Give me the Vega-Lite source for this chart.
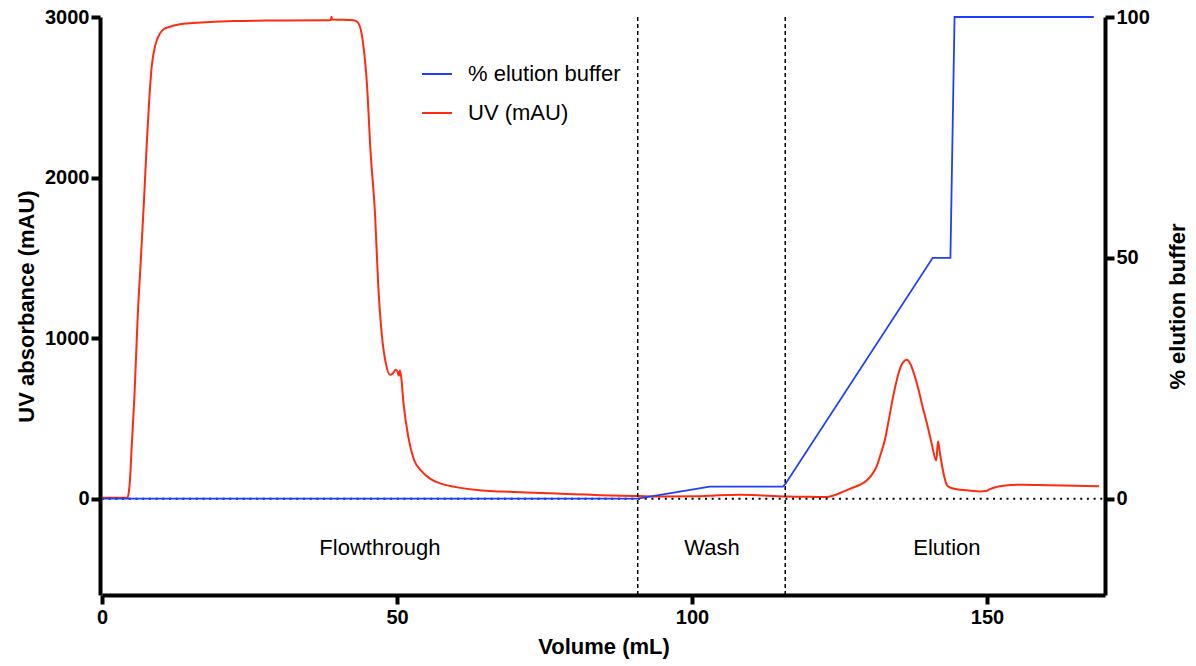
{
  "$schema": "https://vega.github.io/schema/vega-lite/v6.json",
  "width": 1003,
  "height": 578,
  "autosize": {"type": "none"},
  "padding": {"left": 102, "top": 17, "right": 91, "bottom": 71},
  "background": "white",
  "datasets": {
    "uv": [
      {"volume": 0, "uv": 5}, {"volume": 4.3, "uv": 6}, {"volume": 4.5, "uv": 30}, {"volume": 4.75, "uv": 120},
      {"volume": 5.0, "uv": 300}, {"volume": 5.5, "uv": 640}, {"volume": 6.05, "uv": 1134}, {"volume": 6.6, "uv": 1500},
      {"volume": 7.12, "uv": 1861}, {"volume": 7.6, "uv": 2220}, {"volume": 8.0, "uv": 2480}, {"volume": 8.42, "uv": 2690},
      {"volume": 9.0, "uv": 2820}, {"volume": 9.83, "uv": 2898}, {"volume": 10.5, "uv": 2925}, {"volume": 11.5, "uv": 2939},
      {"volume": 13, "uv": 2953}, {"volume": 14.4, "uv": 2960}, {"volume": 17.7, "uv": 2968}, {"volume": 22.3, "uv": 2975},
      {"volume": 30, "uv": 2978}, {"volume": 38, "uv": 2980}, {"volume": 38.8, "uv": 2982}, {"volume": 38.9, "uv": 3001},
      {"volume": 39.0, "uv": 2985}, {"volume": 42.6, "uv": 2980}, {"volume": 43.4, "uv": 2965}, {"volume": 44.2, "uv": 2850},
      {"volume": 44.9, "uv": 2587}, {"volume": 45.5, "uv": 2172}, {"volume": 46.3, "uv": 1757}, {"volume": 46.8, "uv": 1342},
      {"volume": 47.4, "uv": 1031}, {"volume": 48.1, "uv": 844}, {"volume": 48.8, "uv": 772}, {"volume": 49.3, "uv": 780},
      {"volume": 49.8, "uv": 803}, {"volume": 50.1, "uv": 790}, {"volume": 50.3, "uv": 765}, {"volume": 50.5, "uv": 798},
      {"volume": 50.7, "uv": 760}, {"volume": 51.1, "uv": 595}, {"volume": 51.9, "uv": 388}, {"volume": 52.8, "uv": 250},
      {"volume": 54.2, "uv": 170}, {"volume": 55.6, "uv": 125}, {"volume": 57.3, "uv": 95}, {"volume": 60, "uv": 72},
      {"volume": 64, "uv": 52}, {"volume": 67.5, "uv": 45}, {"volume": 72, "uv": 38}, {"volume": 76, "uv": 33},
      {"volume": 80, "uv": 28}, {"volume": 84.4, "uv": 22}, {"volume": 88, "uv": 18}, {"volume": 91, "uv": 16},
      {"volume": 95, "uv": 14}, {"volume": 101, "uv": 15}, {"volume": 104, "uv": 20}, {"volume": 108, "uv": 24},
      {"volume": 112, "uv": 20}, {"volume": 116, "uv": 14}, {"volume": 120, "uv": 12}, {"volume": 122.8, "uv": 10},
      {"volume": 124, "uv": 20}, {"volume": 125.1, "uv": 35}, {"volume": 127, "uv": 65}, {"volume": 128.5, "uv": 87},
      {"volume": 129.6, "uv": 113}, {"volume": 130.5, "uv": 150}, {"volume": 131.3, "uv": 201}, {"volume": 132, "uv": 280},
      {"volume": 132.7, "uv": 367}, {"volume": 133.4, "uv": 500}, {"volume": 134.1, "uv": 637}, {"volume": 135, "uv": 780},
      {"volume": 135.8, "uv": 850}, {"volume": 136.4, "uv": 865}, {"volume": 137, "uv": 840}, {"volume": 137.7, "uv": 770},
      {"volume": 138.4, "uv": 678}, {"volume": 139.1, "uv": 570}, {"volume": 139.8, "uv": 471}, {"volume": 140.6, "uv": 347},
      {"volume": 141.4, "uv": 238}, {"volume": 141.7, "uv": 357}, {"volume": 142.0, "uv": 290}, {"volume": 142.3, "uv": 222},
      {"volume": 142.8, "uv": 130}, {"volume": 143.2, "uv": 85}, {"volume": 143.7, "uv": 70}, {"volume": 144.9, "uv": 58},
      {"volume": 146.6, "uv": 52}, {"volume": 148.8, "uv": 45}, {"volume": 149.9, "uv": 48}, {"volume": 150.5, "uv": 60},
      {"volume": 151.5, "uv": 72}, {"volume": 152.8, "uv": 81}, {"volume": 156.1, "uv": 87}, {"volume": 160.7, "uv": 83},
      {"volume": 165, "uv": 80}, {"volume": 169, "uv": 77}
    ],
    "buffer": [
      {"volume": 0, "pct": 0}, {"volume": 90.8, "pct": 0}, {"volume": 103, "pct": 2.5}, {"volume": 115.4, "pct": 2.5},
      {"volume": 115.8, "pct": 3}, {"volume": 140.8, "pct": 50}, {"volume": 143.8, "pct": 50}, {"volume": 144.5, "pct": 100},
      {"volume": 168.1, "pct": 100}
    ],
    "boundaries": [{"volume": 90.8}, {"volume": 115.8}],
    "baseline": [{"volume": 0, "volume2": 170, "uv": 0}],
    "phases": [
      {"label": "Flowthrough", "volume": 47.1, "uv": -305},
      {"label": "Wash", "volume": 103.4, "uv": -305},
      {"label": "Elution", "volume": 143.2, "uv": -305}
    ]
  },
  "layer": [
    {
      "layer": [
        {
          "data": {"name": "uv"},
          "mark": {"type": "line", "strokeWidth": 2, "interpolate": "monotone"},
          "encoding": {
            "x": {"field": "volume", "type": "quantitative", "scale": {"domain": [0, 170], "nice": false, "zero": false},
                  "title": "Volume (mL)",
                  "axis": {"values": [0, 50, 100, 150], "labelFlush": false, "labelPadding": 3, "titlePadding": 9}},
            "y": {"field": "uv", "type": "quantitative", "scale": {"domain": [-600, 3000], "nice": false, "zero": false},
                  "title": "UV absorbance (mAU)",
                  "axis": {"orient": "left", "values": [0, 1000, 2000, 3000], "format": "d", "offset": 2, "labelPadding": 2, "titlePadding": 6}},
            "color": {"datum": "UV (mAU)", "type": "nominal",
                      "scale": {"domain": ["% elution buffer", "UV (mAU)"], "range": ["#1f3fff", "#ff2a0f"]},
                      "legend": {"orient": "none", "legendX": 319, "legendY": 41, "title": null}}
          }
        },
        {
          "data": {"name": "boundaries"},
          "mark": {"type": "rule", "color": "black", "strokeWidth": 1.5, "strokeDash": [4, 3]},
          "encoding": {"x": {"field": "volume", "type": "quantitative"}}
        },
        {
          "data": {"name": "baseline"},
          "mark": {"type": "rule", "color": "black", "strokeWidth": 2, "strokeDash": [2, 4.7]},
          "encoding": {
            "x": {"field": "volume", "type": "quantitative"},
            "x2": {"field": "volume2"},
            "y": {"field": "uv", "type": "quantitative"}
          }
        },
        {
          "data": {"name": "phases"},
          "mark": {"type": "text", "font": "Liberation Sans", "fontSize": 22, "color": "black", "align": "center", "baseline": "middle"},
          "encoding": {
            "x": {"field": "volume", "type": "quantitative"},
            "y": {"field": "uv", "type": "quantitative"},
            "text": {"field": "label"}
          }
        }
      ]
    },
    {
      "data": {"name": "buffer"},
      "mark": {"type": "line", "strokeWidth": 1.8},
      "encoding": {
        "x": {"field": "volume", "type": "quantitative"},
        "y": {"field": "pct", "type": "quantitative", "scale": {"domain": [-20, 100], "nice": false, "zero": false},
              "title": "% elution buffer",
              "axis": {"orient": "right", "values": [0, 50, 100], "labelPadding": 2, "titlePadding": 40, "titleAngle": 270}},
        "color": {"datum": "% elution buffer", "type": "nominal"}
      }
    }
  ],
  "resolve": {"scale": {"y": "independent"}},
  "config": {
    "view": {"stroke": null},
    "font": "Liberation Sans",
    "axis": {
      "grid": false,
      "domainColor": "black", "domainWidth": 4,
      "tickColor": "black", "tickWidth": 4, "tickSize": 9,
      "labelFont": "Liberation Sans", "labelFontSize": 20, "labelFontWeight": "bold", "labelColor": "black",
      "titleFont": "Liberation Sans", "titleFontSize": 22, "titleFontWeight": "bold", "titleColor": "black"
    },
    "legend": {
      "symbolType": "stroke", "symbolSize": 900, "symbolStrokeWidth": 2,
      "labelFont": "Liberation Sans", "labelFontSize": 22, "labelColor": "black",
      "labelOffset": 15, "rowPadding": 12, "padding": 0
    }
  }
}
